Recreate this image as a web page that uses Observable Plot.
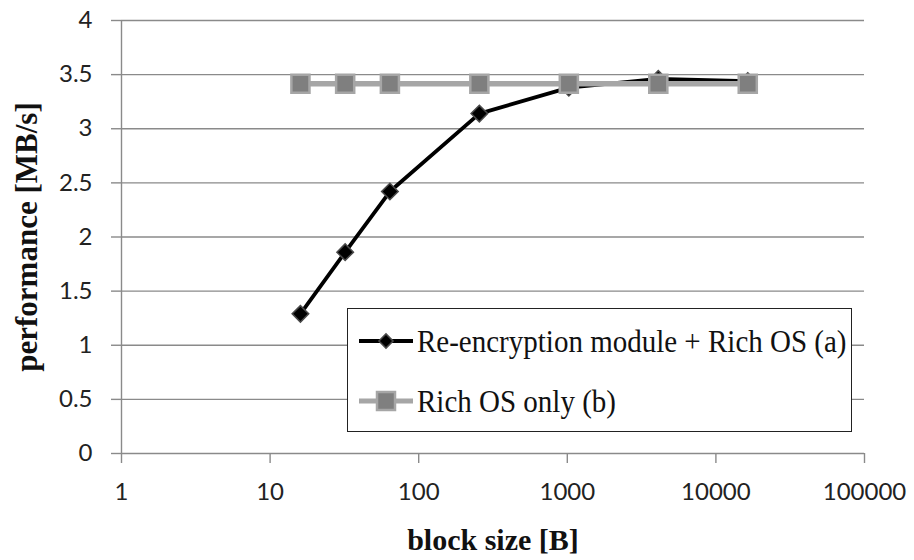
<!DOCTYPE html>
<html>
<head>
<meta charset="utf-8">
<script src="https://cdn.jsdelivr.net/npm/d3@7"></script>
<script src="https://cdn.jsdelivr.net/npm/@observablehq/plot@0.6"></script>
<style>
  html, body { margin: 0; padding: 0; background: #fff; }
  #wrap { position: relative; width: 914px; height: 560px; }
</style>
</head>
<body>
<div id="wrap"></div>
<script>
// ---- data ----
const blockSizes = [16, 32, 64, 256, 1024, 4096, 16384];
const reencPerf = [1.29, 1.86, 2.42, 3.14, 3.38, 3.46, 3.44];
const richOnlyPerf = [3.415, 3.415, 3.415, 3.415, 3.415, 3.415, 3.415];
const seriesNames = ["Re-encryption module + Rich OS (a)", "Rich OS only (b)"];
const xTicks = [1, 10, 100, 1000, 10000, 100000];
const yTicks = [0, 0.5, 1, 1.5, 2, 2.5, 3, 3.5, 4];
const xTitle = "block size [B]";
const yTitle = "performance [MB/s]";

const seriesA = blockSizes.map((x, i) => ({x, y: reencPerf[i]}));
const seriesB = blockSizes.map((x, i) => ({x, y: richOnlyPerf[i]}));

const serif = "'Liberation Serif', 'Times New Roman', serif";
const gridColor = "#8a8a8a";
const plot = Plot.plot({
  width: 914,
  height: 560,
  marginLeft: 121,
  marginRight: 50,
  marginTop: 20,
  marginBottom: 107,
  style: {fontFamily: "Lato, 'Open Sans', sans-serif", fontSize: "24px", background: "#fff", color: "#222"},
  x: {type: "log", domain: [1, 100000]},
  y: {domain: [0, 4]},
  marks: [
    Plot.gridY(yTicks, {stroke: gridColor, strokeOpacity: 1, strokeWidth: 1.4}),
    Plot.ruleX([1], {stroke: gridColor, strokeWidth: 1.4}),
    Plot.axisY(yTicks, {tickSize: 10, tickPadding: 19, stroke: gridColor, strokeWidth: 1.4, tickFormat: d => String(d), label: null, fontSize: 24, fill: "#222"}),
    Plot.axisX(xTicks, {tickSize: 10, tickPadding: 19, stroke: gridColor, strokeWidth: 1.4, tickFormat: d => String(d), label: null, fontSize: 24, fill: "#222"}),
    Plot.line(seriesA, {x: "x", y: "y", stroke: "#000", strokeWidth: 3.8}),
    Plot.dot(seriesA, {x: "x", y: "y", symbol: "square", rotate: 45, r: 6.6, fill: "#000", stroke: "#4a4a4a", strokeWidth: 1.5}),
    Plot.line(seriesB, {x: "x", y: "y", stroke: "#a6a6a6", strokeWidth: 5.5}),
    Plot.dot(seriesB, {x: "x", y: "y", symbol: "square", r: 10.2, fill: "#7f7f7f", stroke: "#a6a6a6", strokeWidth: 2.5}),
    Plot.text([xTitle], {frameAnchor: "bottom", dy: 96, textAnchor: "middle", fontSize: 30, fontWeight: "bold", fontFamily: serif, fill: "#111"}),
    Plot.text([yTitle], {frameAnchor: "left", dx: -94, rotate: -90, textAnchor: "middle", lineAnchor: "middle", fontSize: 31, fontWeight: "bold", fontFamily: serif, fill: "#111"})
  ]
});
const wrap = document.getElementById("wrap");
wrap.appendChild(plot);

// ---- legend (HTML overlay) ----
const legend = document.createElement("div");
legend.style.cssText = "position:absolute;left:347px;top:308px;width:503px;height:122px;border:1.5px solid #222;background:#fff;";
const swatchA = `<svg width="56" height="20" style="flex:none"><line x1="1" x2="55" y1="10" y2="10" stroke="#000" stroke-width="3.8"/><rect x="23" y="5" width="10" height="10" transform="rotate(45 28 10)" fill="#000" stroke="#4a4a4a" stroke-width="1.5"/></svg>`;
const swatchB = `<svg width="56" height="22" style="flex:none"><line x1="1" x2="55" y1="11" y2="11" stroke="#a6a6a6" stroke-width="5"/><rect x="19" y="2" width="18" height="18" fill="#7f7f7f" stroke="#a6a6a6" stroke-width="2.5"/></svg>`;
const rowStyle = "position:absolute;left:10px;display:flex;align-items:center;height:40px;";
const textStyle = `font-family:${serif};font-size:29px;color:#111;display:inline-block;transform:scaleY(1.12);margin-left:3px;white-space:nowrap;line-height:40px;`;
legend.innerHTML = `<div style="${rowStyle}top:12px">${swatchA}<span style="${textStyle}">${seriesNames[0]}</span></div>
<div style="${rowStyle}top:72px">${swatchB}<span style="${textStyle}">${seriesNames[1]}</span></div>`;
wrap.appendChild(legend);
</script>
</body>
</html>
